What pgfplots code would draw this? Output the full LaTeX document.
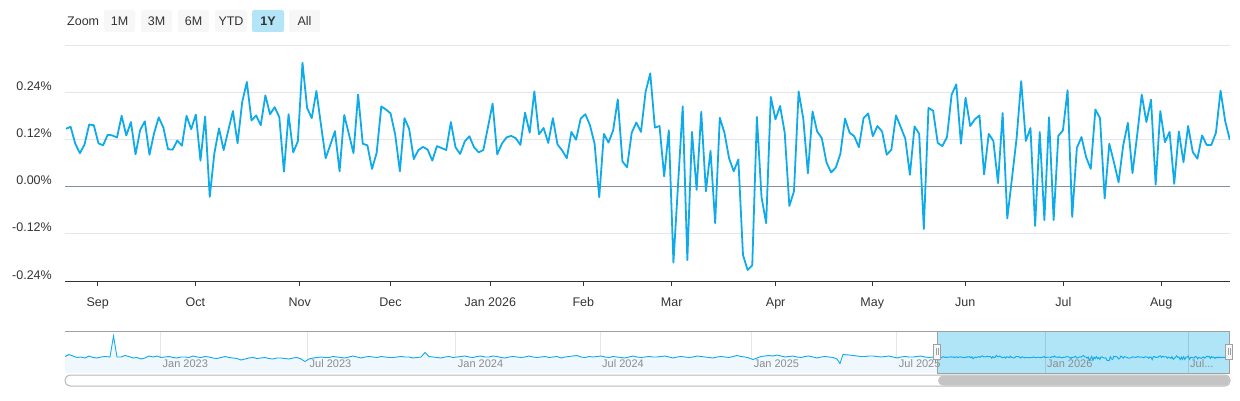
\documentclass[border=0pt]{standalone}
\usepackage{pgfplots}
\pgfplotsset{compat=1.18}
\usepackage{pgfplotstable}
\usepackage{fontspec}
\setmainfont{Liberation Sans}
\definecolor{linecol}{RGB}{14,170,234}
\definecolor{gridcol}{RGB}{230,230,230}
\definecolor{zerocol}{RGB}{128,142,158}
\definecolor{axisdark}{RGB}{51,51,51}
\definecolor{labcol}{RGB}{51,51,51}
\definecolor{navfill}{RGB}{240,248,253}
\definecolor{maskcol}{RGB}{176,228,247}
\definecolor{btnfill}{RGB}{247,247,247}
\definecolor{btnsel}{RGB}{180,228,247}
\definecolor{navlab}{RGB}{140,140,140}
\definecolor{outl}{RGB}{160,160,160}

\pgfplotstableread{
v
0.147
0.152
0.109
0.085
0.107
0.158
0.156
0.110
0.105
0.132
0.130
0.125
0.180
0.130
0.164
0.082
0.144
0.166
0.081
0.136
0.176
0.150
0.095
0.094
0.117
0.104
0.180
0.146
0.183
0.066
0.178
-0.026
0.085
0.148
0.093
0.143
0.192
0.110
0.215
0.266
0.168
0.181
0.156
0.232
0.184
0.202
0.177
0.038
0.184
0.087
0.115
0.315
0.200
0.174
0.243
0.156
0.072
0.106
0.141
0.039
0.182
0.134
0.085
0.234
0.109
0.105
0.045
0.086
0.204
0.196
0.186
0.132
0.039
0.174
0.147
0.070
0.093
0.101
0.094
0.066
0.103
0.098
0.093
0.164
0.100
0.083
0.115
0.128
0.100
0.087
0.093
0.151
0.211
0.082
0.109
0.125
0.129
0.123
0.106
0.188
0.137
0.242
0.133
0.149
0.111
0.174
0.107
0.092
0.072
0.139
0.119
0.173
0.184
0.156
0.109
-0.027
0.134
0.112
0.143
0.222
0.064
0.049
0.137
0.163
0.139
0.241
0.288
0.150
0.154
0.026
0.143
-0.193
0.006
0.204
-0.187
0.139
-0.008
0.190
-0.012
0.091
-0.093
0.175
0.137
0.072
0.039
0.069
-0.174
-0.212
-0.200
0.177
-0.027
-0.093
0.228
0.171
0.205
0.137
-0.049
-0.012
0.242
0.173
0.034
0.191
0.140
0.123
0.062
0.036
0.048
0.083
0.173
0.137
0.128
0.100
0.174
0.186
0.128
0.154
0.140
0.081
0.094
0.181
0.152
0.122
0.030
0.153
0.134
-0.108
0.200
0.193
0.111
0.103
0.126
0.234
0.260
0.109
0.226
0.154
0.171
0.181
0.031
0.134
0.116
0.009
0.187
-0.081
0.020
0.122
0.268
0.116
0.149
-0.100
0.139
-0.085
0.176
-0.085
0.129
0.143
0.245
-0.077
0.098
0.126
0.075
0.045
0.196
0.174
-0.030
0.109
0.062
0.011
0.105
0.162
0.034
0.130
0.234
0.164
0.221
0.005
0.192
0.113
0.139
0.007
0.140
0.062
0.154
0.088
0.071
0.130
0.106
0.106
0.137
0.244
0.166
0.119
}\maindata
\pgfplotstablecreatecol[expr={937+\pgfplotstablerow*1.1633}]{nx}{\maindata}
\pgfplotstablecreatecol[expr={14.5+10*\thisrow{v}}]{nv}{\maindata}

\pgfplotstableread{
x v
65 16.5
69 18.5
73 17
77 15.5
81 16
85 15
89 17
93 15.5
97 15
101 16
105 16.5
110 16
113.5 37
117 16
121 16
125 17.5
129 16.5
133 15
137 15.5
141 14
145 15
149 17
153 16
157 17
161 15.5
165 16
169 16.5
173 15.5
177 15
181 16
185 16
189 15.5
193 17
197 16
201 15.5
205 16.5
209 16
213 15
217 14.5
221 15.5
225 16.5
229 15.5
233 15
237 14.5
241 13
245 14
249 15
253 15.5
257 14.5
261 15
265 15.5
269 14.5
273 14
277 15
281 15
285 14.5
289 14
293 15
297 15.5
301 14
305 11.5
309 14
313 15
317 15.5
321 16
325 15.5
329 15.5
333 16.5
337 16
341 15.5
345 15
349 16
353 17
357 16
361 15
365 16
369 16.5
373 16
377 15.5
381 16.5
385 16
389 15.5
393 15.5
397 16
401 16.5
405 16
409 16
413 15
417 15.5
421 16
425 20.5
429 16.5
433 16
437 15.5
441 15
445 16
449 16.5
453 15.5
457 16
461 16.5
465 17
469 16
473 15.5
477 16.5
481 17
485 16
489 16
493 17
497 16.5
501 15.5
505 15
509 16
513 16.5
517 16
521 15.5
525 16
529 17
533 16
537 15.5
541 16
545 16.5
549 15.5
553 16
557 16.5
561 15
565 16
569 16.5
573 17
577 17.5
581 16
585 15.5
589 16.5
593 16
597 16.5
601 17
605 16
609 15.5
613 16.5
617 16
621 15.5
625 15
629 16
633 17
637 16
641 15.5
645 16
649 16.5
653 16
657 16
661 16.5
665 17
669 16
673 15
677 16
681 16.5
685 16
689 15.5
693 16
697 17
701 16.5
705 16
709 15.5
713 15
717 16
721 16.5
725 16
729 15.5
733 16.5
737 17.5
741 16.5
745 16
749 15
753 13.5
757 15
761 16.5
765 17
769 17.5
773 17
777 18
781 17
785 16
789 16.5
793 17
797 16
801 15.5
805 16.5
809 17
813 16
817 15
821 16
825 16.5
829 16
833 15.5
837 14
840 9.5
843 18.5
849 18
853 17.5
857 17
861 16.5
865 16.5
869 17
873 17
877 16.5
881 16
885 16.5
889 17
893 16
897 15
901 16
905 16.5
909 16
913 16
917 16.5
921 17
925 16
929 15.5
933 16
937 15.97
}\navdata

\begin{document}
\begin{tikzpicture}[x=1pt,y=1pt]
\path[use as bounding box] (0,0) rectangle (1240,400);

% range selector
\node[anchor=west, inner sep=0pt, text=labcol] at (67,379) {\fontsize{12.5}{15}\selectfont Zoom};
\foreach \xa/\xb/\lab in {104/135/1M, 141/172/3M, 178/209/6M, 215/247/YTD, 289/320/All}{
  \fill[btnfill, rounded corners=2pt] (\xa,368) rectangle (\xb,390);
  \node[text=labcol, inner sep=0pt] at ({(\xa+\xb)/2},379) {\fontsize{12.5}{15}\selectfont \lab};
}
\fill[btnsel, rounded corners=2pt] (252,368) rectangle (284,390);
\node[text=labcol, inner sep=0pt] at (268,379) {\fontsize{12.5}{15}\selectfont\bfseries 1Y};

\begin{axis}[
  at={(65pt,119pt)}, anchor=south west,
  scale only axis, width=1165pt, height=236pt,
  xmin=-0.216, xmax=251.03, ymin=-0.24, ymax=0.36,
  axis x line*=bottom, axis y line*=left,
  y axis line style={draw=none},
  x axis line style={draw=axisdark, line width=1pt},
  xtick={6.84,27.88,50.40,69.98,91.50,111.56,130.62,153.05,173.88,193.94,215.08,236.21},
  xticklabels={Sep,Oct,Nov,Dec,Jan 2026,Feb,Mar,Apr,May,Jun,Jul,Aug},
  tick align=outside, major tick length=5pt,
  xtick style={draw=axisdark, line width=1pt},
  ytick={-0.24,-0.12,0.12,0.24,0.36},
  yticklabels={-0.24\%,-0.12\%,0.12\%,0.24\%,{}},
  ytick style={draw=none},
  extra y ticks={0}, extra y tick labels={0.00\%},
  extra y tick style={grid=major, grid style={draw=zerocol, line width=1pt}, ytick style={draw=none}},
  ymajorgrids, grid style={draw=gridcol, line width=1pt},
  /pgf/number format/assume math mode=true,
  tick label style={font=\fontsize{12.5}{14}\selectfont, text=labcol},
  yticklabel style={anchor=base east, inner sep=0pt, xshift=-8pt, yshift=2pt},
  xticklabel style={anchor=base, inner sep=0pt, yshift=-20pt},
]
\addplot[draw=linecol, line width=1.8pt, line join=round, mark=none] table[x expr=\coordindex, y=v] {\maindata};
\end{axis}

% navigator grid
\foreach \gx in {160.5, 307.5, 455.7, 600, 751.6, 896.7}{
  \draw[gridcol, line width=1pt] (\gx,27) -- (\gx,69);
}

\begin{axis}[
  at={(65pt,27pt)}, anchor=south west,
  scale only axis, width=1164pt, height=42pt,
  xmin=65, xmax=1229, ymin=0, ymax=42,
  axis lines=none, ticks=none,
]
\addplot[draw=none, fill=navfill] table[x=x, y=v] {\navdata} \closedcycle;
\addplot[draw=linecol, line width=0.9pt, mark=none] table[x=x, y=v] {\navdata};
\end{axis}

% mask (selected range)
\fill[maskcol] (937,27) rectangle (1229,69);
\foreach \gx in {1045, 1188}{
  \draw[black!12!maskcol, line width=1pt] (\gx,27) -- (\gx,69);
}

\begin{axis}[
  at={(65pt,27pt)}, anchor=south west,
  scale only axis, width=1164pt, height=42pt,
  xmin=65, xmax=1229, ymin=0, ymax=42,
  axis lines=none, ticks=none,
]
\addplot[draw=linecol, line width=0.9pt, mark=none] table[x=nx, y=nv] {\maindata};
\end{axis}

\foreach \gx/\lab in {160.5/Jan 2023, 307.5/Jul 2023, 455.7/Jan 2024, 600/Jul 2024, 751.6/Jan 2025, 896.7/Jul 2025, 1045/Jan 2026, 1188/{Jul{.}{.}{.}}}{
  \node[anchor=west, inner sep=0pt, text=navlab] at (\gx+2,36) {\fontsize{11}{13}\selectfont \lab};
}

\draw[outl, line width=1pt] (65,69) -- (1229,69);
\draw[outl, line width=1pt] (937,27) rectangle (1229,69);
% handles
\foreach \hx in {937,1229}{
  \filldraw[fill=btnfill, draw=outl, line width=0.8pt] (\hx-3.5,41) rectangle (\hx+3.5,56);
  \draw[outl, line width=0.8pt] (\hx-1,45) -- (\hx-1,52) (\hx+1,45) -- (\hx+1,52);
}
% scrollbar
\draw[draw=gridcol!80!black, fill=white, line width=1pt, rounded corners=5pt] (65,14) rectangle (1230,25);
\fill[gridcol!85!black, rounded corners=5pt] (938,14.5) rectangle (1229.5,24.5);
\end{tikzpicture}
\end{document}
